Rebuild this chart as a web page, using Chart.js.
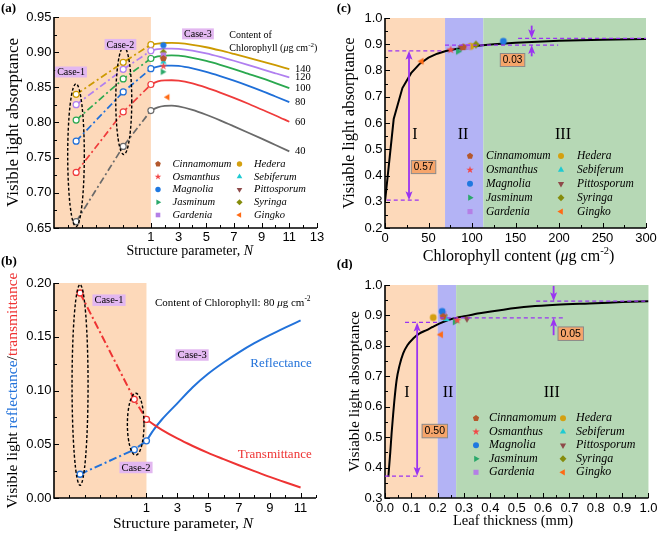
<!DOCTYPE html>
<html><head><meta charset="utf-8">
<script src="https://cdn.jsdelivr.net/npm/chart.js@4.4.1/dist/chart.umd.min.js"></script>
<style>
html,body{margin:0;padding:0;background:#fff;overflow:hidden}
#wrap{position:relative;width:660px;height:540px;background:#fff}
canvas{position:absolute;display:block}
</style></head><body>
<div id="wrap">
<canvas id="pa" width="330" height="270" style="left:0;top:0"></canvas>
<canvas id="pb" width="330" height="270" style="left:0;top:270px"></canvas>
<canvas id="pc" width="330" height="270" style="left:330px;top:0"></canvas>
<canvas id="pd" width="330" height="270" style="left:330px;top:270px"></canvas>
</div>
<script>
// ================= DATA =================
const SPECIES = ['Cinnamomum','Osmanthus','Magnolia','Jasminum','Gardenia','Hedera','Sebiferum','Pittosporum','Syringa','Gingko'];

// (a) absorptance vs structure parameter N, for chlorophyll contents
const A_CONTENT = [40, 60, 80, 100, 120, 140];
const A_CASE_X = [-4.4, -1.0, 1];          // Case-1, Case-2, N = 1
const A_CASE_40  = [0.659, 0.766, 0.817];
const A_CASE_60  = [0.729, 0.815, 0.854];
const A_CASE_80  = [0.7735, 0.8435, 0.8765];
const A_CASE_100 = [0.8035, 0.862, 0.891];
const A_CASE_120 = [0.8253, 0.8756, 0.902];
const A_CASE_140 = [0.840, 0.8855, 0.9107];
const A_N = [1, 1.5, 2, 2.5, 3, 4, 5, 6, 7, 8, 9, 10, 11];
const A_40  = [0.817, 0.8215, 0.8235, 0.824, 0.823, 0.818, 0.811, 0.803, 0.7945, 0.7858, 0.777, 0.768, 0.759];
const A_60  = [0.854, 0.8585, 0.860, 0.8601, 0.8595, 0.8555, 0.8495, 0.8425, 0.835, 0.827, 0.8185, 0.810, 0.801];
const A_80  = [0.8765, 0.8795, 0.8808, 0.881, 0.8805, 0.877, 0.872, 0.866, 0.8595, 0.8525, 0.845, 0.837, 0.829];
const A_100 = [0.891, 0.894, 0.8952, 0.8955, 0.895, 0.892, 0.8875, 0.882, 0.876, 0.8695, 0.863, 0.856, 0.849];
const A_120 = [0.902, 0.9042, 0.905, 0.9051, 0.9048, 0.9023, 0.8983, 0.8933, 0.8878, 0.882, 0.876, 0.870, 0.864];
const A_140 = [0.9107, 0.9122, 0.913, 0.9131, 0.9128, 0.9105, 0.907, 0.9025, 0.8975, 0.8923, 0.8869, 0.8815, 0.876];
const A_SP_N = [1.9, 1.9, 1.9, 1.85, 1.9, 1.9, 1.9, 1.9, 1.9, 2.2];
const A_SP_Y = [0.891, 0.880, 0.910, 0.872, 0.896, 0.893, 0.886, 0.889, 0.900, 0.836];
const A_XLABELS = [1, 3, 5, 7, 9, 11, 13];

// (b) reflectance / transmittance, chlorophyll 80
const B_CASE_X = [-3.31, 0.21, 1];
const B_T_CASE = [0.1907, 0.0918, 0.0731];
const B_R_CASE = [0.0221, 0.0450, 0.0532];
const B_N = [1, 1.5, 2, 3, 4, 5, 6, 7, 8, 9, 10, 11];
const B_T = [0.0731, 0.0680, 0.0634, 0.0554, 0.0484, 0.0420, 0.0362, 0.0305, 0.0250, 0.0196, 0.0146, 0.0098];
const B_R = [0.0532, 0.0640, 0.0730, 0.0880, 0.1030, 0.1155, 0.1260, 0.1355, 0.1440, 0.1515, 0.1585, 0.1652];
const B_XLABELS = [1, 3, 5, 7, 9, 11];

// (c) absorptance vs chlorophyll content
const C_CHL = [0, 10, 20, 30, 40, 50, 60, 70, 80, 90, 100, 125, 150, 200, 250, 300];
const C_ABS = [0.300, 0.615, 0.733, 0.790, 0.826, 0.849, 0.864, 0.874, 0.881, 0.887, 0.892, 0.900, 0.906, 0.913, 0.917, 0.920];
const C_SP_X = [90, 75.5, 136, 84, 95, 98.5, 92, 87.5, 104.5, 42];
const C_SP_Y = [0.889, 0.879, 0.911, 0.873, 0.890, 0.892, 0.886, 0.888, 0.899, 0.835];
const C_ZONES = [0, 69, 113, 300];

// (d) absorptance vs leaf thickness
const D_TH  = [0.0126, 0.02, 0.025, 0.03, 0.035, 0.044, 0.055, 0.069, 0.085, 0.107, 0.13, 0.158, 0.18, 0.208, 0.24, 0.271, 0.30, 0.359, 0.45, 0.549, 0.65, 0.80, 0.90, 1.0];
const D_ABS = [0.369, 0.45, 0.512, 0.565, 0.615, 0.687, 0.735, 0.775, 0.802, 0.824, 0.840, 0.852, 0.862, 0.874, 0.885, 0.892, 0.897, 0.907, 0.919, 0.929, 0.935, 0.940, 0.944, 0.947];
const D_SP_X = [0.221, 0.274, 0.217, 0.265, 0.222, 0.183, 0.233, 0.311, 0.223, 0.212];
const D_SP_Y = [0.896, 0.884, 0.913, 0.879, 0.904, 0.893, 0.888, 0.889, 0.901, 0.837];
const D_ZONES = [0, 0.2, 0.27, 1.0];

// ================= STYLE =================
const SERIF = '"Liberation Serif", "Times New Roman", serif';
const SANS = '"Liberation Sans", Arial, sans-serif';
const ORANGE_BG = '#fdd9ba', BLUE_BG = '#b3b3f5', GREEN_BG = '#b6d8b5';
const CASE_BG = '#e2b7f0', BOX_BG = '#f6a56b', PURPLE = '#9a33f2';
const A_COLORS = ['#6a6a6a', '#ef3b3b', '#1f6fd8', '#2aa84f', '#b07ff0', '#cc9a00'];
const SP_SHAPE = ['pent','star','circle','triR','square','circle','triU','triD','diamond','triL'];
const SP_COLOR = ['#b4582c','#f24848','#1f78e0','#2aa86a','#b47fe6','#d4a010','#1ecad2','#8e4a4a','#858c0c','#ff6a14'];

function F(size, style) { return (style ? style + ' ' : '') + size + 'px ' + SERIF; }

function drawShape(g, shape, cx, cy, r, color) {
  g.fillStyle = color; g.beginPath();
  const poly = (n, rot, rr) => { for (let i = 0; i < n; i++) { const t = rot + i * 2 * Math.PI / n; const x = cx + rr * Math.cos(t), y = cy + rr * Math.sin(t); if (i) g.lineTo(x, y); else g.moveTo(x, y); } g.closePath(); };
  switch (shape) {
    case 'circle': g.arc(cx, cy, r, 0, 2 * Math.PI); break;
    case 'square': g.rect(cx - r * 0.85, cy - r * 0.85, r * 1.7, r * 1.7); break;
    case 'diamond': poly(4, -Math.PI / 2, r * 1.15); break;
    case 'triU': poly(3, -Math.PI / 2, r * 1.2); break;
    case 'triD': poly(3, Math.PI / 2, r * 1.2); break;
    case 'triR': poly(3, 0, r * 1.2); break;
    case 'triL': poly(3, Math.PI, r * 1.2); break;
    case 'pent': poly(5, -Math.PI / 2, r * 1.1); break;
    case 'star':
      for (let i = 0; i < 10; i++) { const t = -Math.PI / 2 + i * Math.PI / 5; const rr = i % 2 ? r * 0.5 : r * 1.3; const x = cx + rr * Math.cos(t), y = cy + rr * Math.sin(t); if (i) g.lineTo(x, y); else g.moveTo(x, y); }
      g.closePath(); break;
  }
  g.fill();
}
function mk(shape, color, r) {
  const s = Math.ceil(r * 2.8 + 2);
  const c = document.createElement('canvas'); c.width = s; c.height = s;
  drawShape(c.getContext('2d'), shape, s / 2, s / 2, r, color);
  return c;
}
const pts = (xs, ys) => xs.map((x, i) => ({ x: x, y: ys[i] }));
function speciesSets(xs, ys, r) {
  return SPECIES.map((n, i) => ({ label: n, data: [{ x: xs[i], y: ys[i] }], showLine: false,
    pointStyle: mk(SP_SHAPE[i], SP_COLOR[i], r), pointRadius: r, pointHoverRadius: r }));
}

function rich(ctx, runs, x, y, align) {
  let total = 0; const ws = [];
  runs.forEach(r => { ctx.font = r.f; const w = ctx.measureText(r.t).width; ws.push(w); total += w; });
  let cx = align === 'center' ? x - total / 2 : (align === 'right' ? x - total : x);
  ctx.textAlign = 'left'; ctx.textBaseline = 'middle';
  runs.forEach((r, i) => { ctx.font = r.f; ctx.fillStyle = r.c || '#000'; ctx.fillText(r.t, cx, y - (r.up || 0)); cx += ws[i]; });
}
function rotRich(ctx, runs, x, y) { ctx.save(); ctx.translate(x, y); ctx.rotate(-Math.PI / 2); rich(ctx, runs, 0, 0, 'center'); ctx.restore(); }
function txt(ctx, t, x, y, font, color, align) { ctx.font = font; ctx.fillStyle = color || '#000'; ctx.textAlign = align || 'left'; ctx.textBaseline = 'middle'; ctx.fillText(t, x, y); }
function caseBox(ctx, t, cx, cy, size) {
  ctx.font = F(size); const w = ctx.measureText(t).width + 4, h = size + 1;
  ctx.fillStyle = CASE_BG; ctx.fillRect(cx - w / 2, cy - h / 2, w, h);
  txt(ctx, t, cx, cy + 0.5, F(size), '#000', 'center');
}
function valBox(ctx, t, cx, cy, size) {
  ctx.font = size + 'px ' + SANS; const w = ctx.measureText(t).width + 5, h = size + 3;
  ctx.fillStyle = BOX_BG; ctx.fillRect(cx - w / 2, cy - h / 2, w, h);
  ctx.strokeStyle = '#8a8a8a'; ctx.lineWidth = 1; ctx.setLineDash([]); ctx.strokeRect(cx - w / 2, cy - h / 2, w, h);
  txt(ctx, t, cx, cy + 0.5, size + 'px ' + SANS, '#000', 'center');
}
function ellipseD(ctx, X, Y, e) {
  const cy = (Y.getPixelForValue(e[1]) + Y.getPixelForValue(e[2])) / 2;
  const ry = Math.abs(Y.getPixelForValue(e[2]) - Y.getPixelForValue(e[1])) / 2;
  ctx.strokeStyle = '#000'; ctx.lineWidth = 1.4; ctx.setLineDash([3, 2]);
  ctx.beginPath(); ctx.ellipse(X.getPixelForValue(e[0]), cy, e[3], ry, 0, 0, 2 * Math.PI); ctx.stroke();
  ctx.setLineDash([]);
}
function legendDraw(ctx, L, r) {
  SPECIES.forEach((n, i) => {
    const col = i < 5 ? 0 : 1, row = i % 5;
    const mx = col ? L.x2 : L.x1, y = L.y0 + row * L.dy;
    drawShape(ctx, SP_SHAPE[i], mx, y, r, SP_COLOR[i]);
    txt(ctx, n, mx + L.gap, y, F(L.size, 'italic'), '#000', 'left');
  });
}
function hDash(ctx, X, Y, x0, x1, y) {
  ctx.strokeStyle = PURPLE; ctx.lineWidth = 1.3; ctx.setLineDash([4, 3]);
  const p = Y.getPixelForValue(y);
  ctx.beginPath(); ctx.moveTo(X.getPixelForValue(x0), p); ctx.lineTo(X.getPixelForValue(x1), p); ctx.stroke();
  ctx.setLineDash([]);
}
function head(ctx, x, y, dir) {
  ctx.fillStyle = PURPLE; ctx.beginPath(); ctx.moveTo(x, y); ctx.lineTo(x - 3.5, y - dir * 9); ctx.lineTo(x, y - dir * 7); ctx.lineTo(x + 3.5, y - dir * 9); ctx.closePath(); ctx.fill();
}
function vArrow(ctx, X, Y, x, yFrom, yTo, both) {
  const px = X.getPixelForValue(x), p0 = Y.getPixelForValue(yFrom), p1 = Y.getPixelForValue(yTo);
  const dir = p1 > p0 ? 1 : -1;
  ctx.strokeStyle = PURPLE; ctx.lineWidth = 1.8; ctx.setLineDash([]);
  ctx.beginPath(); ctx.moveTo(px, both ? p0 + dir * 7 : p0); ctx.lineTo(px, p1 - dir * 7); ctx.stroke();
  head(ctx, px, p1, dir);
  if (both) head(ctx, px, p0, -dir);
}

function decorPlugin(spec) {
  return {
    id: 'decor',
    beforeDatasetsDraw(chart) {
      const ctx = chart.ctx, a = chart.chartArea, X = chart.scales.x;
      ctx.save();
      (spec.bands || []).forEach(b => {
        const x0 = X.getPixelForValue(b[0]), x1 = X.getPixelForValue(b[1]);
        ctx.fillStyle = b[2]; ctx.fillRect(x0, a.top, x1 - x0, a.bottom - a.top);
      });
      ctx.restore();
    },
    afterDatasetsDraw(chart) {
      const ctx = chart.ctx, a = chart.chartArea, X = chart.scales.x, Y = chart.scales.y;
      ctx.save();
      ctx.strokeStyle = '#000'; ctx.lineWidth = 1;
      const tk = (vals, len, isX) => vals.forEach(v => {
        ctx.beginPath();
        if (isX) { const p = Math.round(X.getPixelForValue(v)) + 0.5; ctx.moveTo(p, a.bottom); ctx.lineTo(p, a.bottom - len); }
        else { const p = Math.round(Y.getPixelForValue(v)) + 0.5; ctx.moveTo(a.left, p); ctx.lineTo(a.left + len, p); }
        ctx.stroke();
      });
      tk(spec.xMajor, 5, true); tk(spec.xMinor, 3, true); tk(spec.yMajor, 5, false); tk(spec.yMinor, 3, false);
      ctx.lineWidth = 1.6;
      ctx.beginPath(); ctx.moveTo(a.left, a.top); ctx.lineTo(a.left, a.bottom); ctx.lineTo(a.right, a.bottom); ctx.stroke();
      spec.draw(ctx, X, Y, a);
      ctx.restore();
    }
  };
}
function range(a, b, s) { const out = []; for (let v = a; v <= b + s * 1e-6; v += s) out.push(Math.round(v * 1e6) / 1e6); return out; }

function makeChart(id, P, datasets, spec) {
  return new Chart(document.getElementById(id), {
    type: 'scatter',
    data: { datasets: datasets },
    options: {
      responsive: false, animation: false, devicePixelRatio: 1, events: [],
      layout: { padding: { left: 0, top: P.top, right: P.right, bottom: 0 } },
      plugins: { legend: { display: false }, tooltip: { enabled: false }, title: { display: false } },
      scales: {
        x: { type: 'linear', position: 'bottom', min: P.xmin, max: P.xmax, afterFit(s) { s.height = P.xh; },
          grid: { display: false, drawTicks: false }, border: { display: false },
          ticks: { stepSize: P.xstep, autoSkip: false, maxRotation: 0, minRotation: 0, padding: P.xpad, color: '#000', font: { family: SANS, size: 13 }, callback: P.xcb } },
        y: { type: 'linear', position: 'left', min: P.ymin, max: P.ymax, afterFit(s) { s.width = P.yw; },
          grid: { display: false, drawTicks: false }, border: { display: false },
          ticks: { stepSize: P.ystep, autoSkip: false, padding: P.ypad, color: '#000', font: { family: SANS, size: 13 }, callback: P.ycb } }
      }
    },
    plugins: [decorPlugin(spec)]
  });
}

// ================= PANEL (a) =================
(function () {
  const cases = [A_CASE_40, A_CASE_60, A_CASE_80, A_CASE_100, A_CASE_120, A_CASE_140];
  const curves = [A_40, A_60, A_80, A_100, A_120, A_140];
  const ds = speciesSets(A_SP_N, A_SP_Y, 3.1);
  cases.forEach((c, i) => ds.push({ data: pts(A_CASE_X, c), showLine: true, borderColor: A_COLORS[i], borderWidth: 1.7,
    borderDash: [7, 3, 2, 3], pointStyle: 'circle', pointRadius: 3, pointBorderWidth: 1.2,
    pointBorderColor: A_COLORS[i], pointBackgroundColor: '#fff' }));
  curves.forEach((c, i) => ds.push({ data: pts(A_N, c), showLine: true, borderColor: A_COLORS[i], borderWidth: 1.8,
    pointRadius: 0, tension: 0.4, cubicInterpolationMode: 'monotone' }));
  makeChart('pa', { top: 17, right: 13, yw: 54, xh: 42, xmin: -6, xmax: 13, xstep: 1, xpad: 2,
    xcb: v => A_XLABELS.includes(v) ? String(v) : '', ymin: 0.65, ymax: 0.95, ystep: 0.05, ypad: 2.5,
    ycb: v => v.toFixed(2) }, ds, {
    bands: [[-6, 1, ORANGE_BG]],
    xMajor: A_XLABELS, xMinor: range(-5, 12, 1).filter(v => !A_XLABELS.includes(v)),
    yMajor: range(0.65, 0.95, 0.05), yMinor: range(0.675, 0.925, 0.05),
    draw(ctx, X, Y, a) {
      ellipseD(ctx, X, Y, [-4.41, 0.855, 0.652, 8.3]);
      ellipseD(ctx, X, Y, [-0.96, 0.9075, 0.7545, 8]);
      caseBox(ctx, 'Case-1', X.getPixelForValue(-4.77), Y.getPixelForValue(0.8718), 10);
      caseBox(ctx, 'Case-2', X.getPixelForValue(-1.2), Y.getPixelForValue(0.911), 10);
      caseBox(ctx, 'Case-3', X.getPixelForValue(4.4), Y.getPixelForValue(0.926), 10);
      const lx = X.getPixelForValue(6.66);
      txt(ctx, 'Content of', lx, Y.getPixelForValue(0.9244), F(10));
      rich(ctx, [{ t: 'Chlorophyll (', f: F(10) }, { t: 'μ', f: F(10, 'italic') }, { t: 'g cm', f: F(10) },
        { t: '-2', f: F(7), up: 3 }, { t: ')', f: F(10) }], lx, Y.getPixelForValue(0.9055), 'left');
      curves.forEach((c, i) => txt(ctx, String(A_CONTENT[i]), X.getPixelForValue(11.41), Y.getPixelForValue(c[c.length - 1]), F(10.5)));
      legendDraw(ctx, { x1: 158, x2: 239.5, gap: 14.5, y0: 164, dy: 12.75, size: 10.5 }, 2.7);
      rotRich(ctx, [{ t: 'Visible light absorptance', f: F(17) }], 13.5, (a.top + a.bottom) / 2);
      rich(ctx, [{ t: 'Structure parameter, ', f: F(14) }, { t: 'N', f: F(14, 'italic') }], 189.7, 251.5, 'center');
      txt(ctx, '(a)', 1, 9, F(13, 'bold'));
      txt(ctx, '(b)', 1, 262, F(13, 'bold'));
    }
  });
})();

// ================= PANEL (b) =================
(function () {
  const RED = '#ee3333', BLUE = '#2272da';
  const ds = [
    { data: pts(B_CASE_X, B_T_CASE), showLine: true, borderColor: RED, borderWidth: 2, borderDash: [8, 3, 2, 3],
      pointStyle: 'circle', pointRadius: 3, pointBorderWidth: 1.3, pointBorderColor: RED, pointBackgroundColor: '#fff' },
    { data: pts(B_CASE_X, B_R_CASE), showLine: true, borderColor: BLUE, borderWidth: 2, borderDash: [8, 3, 2, 3],
      pointStyle: 'circle', pointRadius: 3, pointBorderWidth: 1.3, pointBorderColor: BLUE, pointBackgroundColor: '#fff' },
    { data: pts(B_N, B_T), showLine: true, borderColor: RED, borderWidth: 2, pointRadius: 0, tension: 0.4, cubicInterpolationMode: 'monotone' },
    { data: pts(B_N, B_R), showLine: true, borderColor: BLUE, borderWidth: 2, pointRadius: 0, tension: 0.4, cubicInterpolationMode: 'monotone' }
  ];
  makeChart('pb', { top: 13, right: 14, yw: 54, xh: 42, xmin: -5, xmax: 12, xstep: 1, xpad: 3,
    xcb: v => B_XLABELS.includes(v) ? String(v) : '', ymin: 0, ymax: 0.20, ystep: 0.05, ypad: 2.5,
    ycb: v => v.toFixed(2) }, ds, {
    bands: [[-5, 1, ORANGE_BG]],
    xMajor: B_XLABELS, xMinor: range(-4, 12, 1).filter(v => !B_XLABELS.includes(v)),
    yMajor: range(0, 0.2, 0.05), yMinor: range(0.025, 0.175, 0.05),
    draw(ctx, X, Y, a) {
      ellipseD(ctx, X, Y, [-3.31, 0.1985, 0.0118, 8]);
      ellipseD(ctx, X, Y, [0.30, 0.0974, 0.0398, 8.3]);
      caseBox(ctx, 'Case-1', X.getPixelForValue(-1.43), Y.getPixelForValue(0.184), 10.5);
      caseBox(ctx, 'Case-3', X.getPixelForValue(3.96), Y.getPixelForValue(0.133), 10.5);
      caseBox(ctx, 'Case-2', X.getPixelForValue(0.32), Y.getPixelForValue(0.0284), 10.5);
      rich(ctx, [{ t: 'Content of Chlorophyll: 80 ', f: F(11) }, { t: 'μ', f: F(11, 'italic') }, { t: 'g cm', f: F(11) },
        { t: '-2', f: F(7.5), up: 3.5 }], X.getPixelForValue(1.55), Y.getPixelForValue(0.1814), 'left');
      txt(ctx, 'Reflectance', X.getPixelForValue(11.72), Y.getPixelForValue(0.1253), F(13), BLUE, 'right');
      txt(ctx, 'Transmittance', X.getPixelForValue(11.72), Y.getPixelForValue(0.040), F(13), RED, 'right');
      rotRich(ctx, [{ t: 'Visible light ', f: F(15.5) }, { t: 'reflectance', f: F(15.5), c: BLUE }, { t: '/', f: F(15.5) },
        { t: 'transmittance', f: F(15.5), c: RED }], 13.3, (a.top + a.bottom) / 2);
      rich(ctx, [{ t: 'Structure parameter, ', f: F(15.5) }, { t: 'N', f: F(15.5, 'italic') }], 183, 254, 'center');
    }
  });
})();

// ================= PANEL (c) =================
(function () {
  const ds = speciesSets(C_SP_X, C_SP_Y, 3.4);
  ds.push({ data: pts(C_CHL, C_ABS), showLine: true, borderColor: '#000', borderWidth: 2, pointRadius: 0, tension: 0 });
  makeChart('pc', { top: 18, right: 14, yw: 55, xh: 42, xmin: 0, xmax: 300, xstep: 50, xpad: 2.5,
    xcb: v => String(v), ymin: 0.2, ymax: 1.0, ystep: 0.1, ypad: 2.5, ycb: v => v.toFixed(1) }, ds, {
    bands: [[C_ZONES[0], C_ZONES[1], ORANGE_BG], [C_ZONES[1], C_ZONES[2], BLUE_BG], [C_ZONES[2], C_ZONES[3], GREEN_BG]],
    xMajor: range(0, 300, 50), xMinor: range(25, 275, 50), yMajor: range(0.2, 1.0, 0.1), yMinor: range(0.25, 0.95, 0.1),
    draw(ctx, X, Y, a) {
      hDash(ctx, X, Y, 3.8, 67, 0.875);
      hDash(ctx, X, Y, 2, 42, 0.306);
      hDash(ctx, X, Y, 69, 199, 0.897);
      hDash(ctx, X, Y, 153, 300, 0.9225);
      vArrow(ctx, X, Y, 27.6, 0.875, 0.306, true);
      vArrow(ctx, X, Y, 168.6, 0.971, 0.9225, false);
      vArrow(ctx, X, Y, 168.6, 0.854, 0.897, false);
      valBox(ctx, '0.57', X.getPixelForValue(44.3), Y.getPixelForValue(0.432), 10);
      valBox(ctx, '0.03', X.getPixelForValue(146.6), Y.getPixelForValue(0.84), 10);
      txt(ctx, 'I', X.getPixelForValue(34.5), Y.getPixelForValue(0.554), F(16), '#000', 'center');
      txt(ctx, 'II', X.getPixelForValue(89.7), Y.getPixelForValue(0.554), F(16), '#000', 'center');
      txt(ctx, 'III', X.getPixelForValue(204.6), Y.getPixelForValue(0.554), F(16), '#000', 'center');
      legendDraw(ctx, { x1: 140, x2: 231, gap: 16, y0: 156, dy: 13.9, size: 11.5 }, 3);
      rotRich(ctx, [{ t: 'Visiable light absorptance', f: F(16.5) }], 20, (a.top + a.bottom) / 2);
      rich(ctx, [{ t: 'Chlorophyll content (', f: F(16) }, { t: 'μ', f: F(16, 'italic') }, { t: 'g cm', f: F(16) },
        { t: '-2', f: F(10.5), up: 5 }, { t: ')', f: F(16) }], 188.5, 256.7, 'center');
      txt(ctx, '(c)', 6.7, 9, F(13, 'bold'));
      txt(ctx, '(d)', 6.7, 265, F(13, 'bold'));
    }
  });
})();

// ================= PANEL (d) =================
(function () {
  const ds = speciesSets(D_SP_X, D_SP_Y, 3.4);
  ds.push({ data: pts(D_TH, D_ABS), showLine: true, borderColor: '#000', borderWidth: 2, pointRadius: 0, tension: 0.3, cubicInterpolationMode: 'monotone' });
  makeChart('pd', { top: 15, right: 11, yw: 55, xh: 42, xmin: 0, xmax: 1.0, xstep: 0.1, xpad: 2.5,
    xcb: v => v.toFixed(1), ymin: 0.3, ymax: 1.0, ystep: 0.1, ypad: 2.5, ycb: v => v.toFixed(1) }, ds, {
    bands: [[D_ZONES[0], D_ZONES[1], ORANGE_BG], [D_ZONES[1], D_ZONES[2], BLUE_BG], [D_ZONES[2], D_ZONES[3], GREEN_BG]],
    xMajor: range(0, 1, 0.1), xMinor: range(0.05, 0.95, 0.1), yMajor: range(0.3, 1.0, 0.1), yMinor: range(0.35, 0.95, 0.1),
    draw(ctx, X, Y, a) {
      hDash(ctx, X, Y, 0.076, 0.208, 0.877);
      hDash(ctx, X, Y, 0, 0.145, 0.372);
      hDash(ctx, X, Y, 0.208, 0.675, 0.892);
      hDash(ctx, X, Y, 0.574, 1.0, 0.947);
      vArrow(ctx, X, Y, 0.122, 0.877, 0.372, true);
      vArrow(ctx, X, Y, 0.64, 0.997, 0.947, false);
      vArrow(ctx, X, Y, 0.64, 0.835, 0.892, false);
      valBox(ctx, '0.50', X.getPixelForValue(0.189), Y.getPixelForValue(0.52), 10.5);
      valBox(ctx, '0.05', X.getPixelForValue(0.705), Y.getPixelForValue(0.84), 10.5);
      txt(ctx, 'I', X.getPixelForValue(0.083), Y.getPixelForValue(0.646), F(16), '#000', 'center');
      txt(ctx, 'II', X.getPixelForValue(0.239), Y.getPixelForValue(0.646), F(16), '#000', 'center');
      txt(ctx, 'III', X.getPixelForValue(0.633), Y.getPixelForValue(0.646), F(16), '#000', 'center');
      legendDraw(ctx, { x1: 146, x2: 233, gap: 13, y0: 148.3, dy: 13.5, size: 12 }, 3);
      rotRich(ctx, [{ t: 'Visiable light absorptance', f: F(15.5) }], 25, (a.top + a.bottom) / 2);
      rich(ctx, [{ t: 'Leaf thickness (mm)', f: F(14.5) }], 183, 250.7, 'center');
    }
  });
})();
</script></body></html>
